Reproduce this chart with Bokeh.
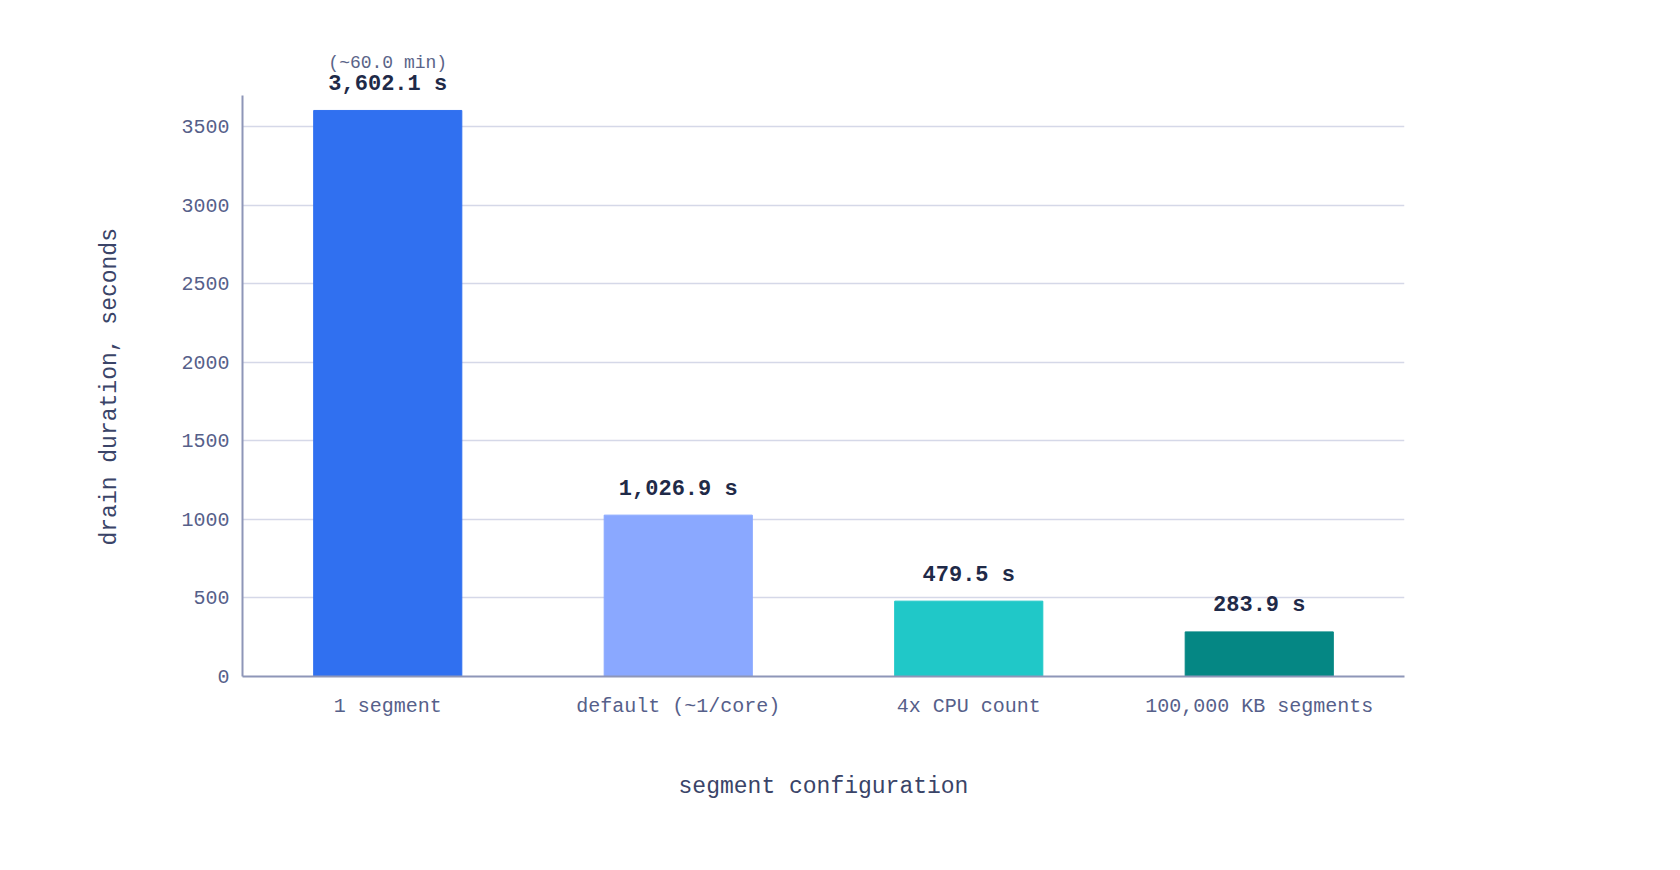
from bokeh.plotting import figure
from bokeh.models import ColumnDataSource, LabelSet, FixedTicker, Title
from bokeh.core.properties import value
from bokeh.embed import file_html
from bokeh.resources import INLINE

# Data
configs = ["1 segment", "default (~1/core)", "4x CPU count", "100,000 KB segments"]
durations = [3602.1, 1026.9, 479.5, 283.9]
bar_colors = ["#3070f0", "#8aa8ff", "#20c8c8", "#058784"]
y_ticks = [0, 500, 1000, 1500, 2000, 2500, 3000, 3500]
minutes_note = "(~60.0 min)"

FONT = "Liberation Mono"

source = ColumnDataSource(data=dict(
    config=configs,
    duration=durations,
    color=bar_colors,
    label=[f"{d:,.1f} s" for d in durations],
))
# extra note only over the tallest bar
note_source = ColumnDataSource(data=dict(
    config=[configs[0]], duration=[durations[0]], label=[minutes_note],
))

# y range goes past the axis so the labels over the tall bar stay inside the frame
p = figure(x_range=configs, y_range=(0, 4200), width=1664, height=854,
           output_backend="svg", toolbar_location=None, tools="",
           min_border_left=242, min_border_right=260,
           min_border_top=16, min_border_bottom=178)
p.x_range.range_padding = 0

p.vbar(x="config", top="duration", width=0.51, source=source,
       fill_color="color", line_color="color", line_width=1)

# value labels above each bar
labels = LabelSet(x="config", y="duration", text="label", source=source,
                  y_offset=26, text_align="center", text_baseline="middle",
                  text_font=value(FONT), text_font_size="22px", text_font_style="bold",
                  text_color="#1f2a48")
p.add_layout(labels)

note = LabelSet(x="config", y="duration", text="label", source=note_source,
                y_offset=47, text_align="center", text_baseline="middle",
                text_font=value(FONT), text_font_size="18px", text_color="#5a6488")
p.add_layout(note)

# styling
p.background_fill_color = "white"
p.border_fill_color = "white"
p.outline_line_color = None
p.xgrid.grid_line_color = None
p.ygrid.grid_line_color = "#d5d8e8"
p.ygrid.grid_line_width = 1.5
p.yaxis.ticker = FixedTicker(ticks=y_ticks)
p.yaxis.bounds = (0, 3700)

for ax in (p.xaxis, p.yaxis):
    ax.axis_line_color = "#8e96b8"
    ax.axis_line_width = 2
    ax.major_tick_line_color = None
    ax.minor_tick_line_color = None
    ax.major_tick_out = 0
    ax.minor_tick_out = 0
    ax.major_label_text_font = FONT
    ax.major_label_text_font_size = "20px"
    ax.major_label_text_color = "#56608a"
    ax.axis_label_text_font = FONT
    ax.axis_label_text_font_size = "23px"
    ax.axis_label_text_font_style = "normal"
    ax.axis_label_text_color = "#3a4468"

p.xaxis.axis_label = "segment configuration"
p.xaxis.major_label_standoff = 18
p.yaxis.major_label_standoff = 13
p.xaxis.axis_label_standoff = 53

# y label as a side title so it is centred on the drawn axis, not the whole frame
y_title = Title(text="drain duration, seconds", align="left", offset=131,
                standoff=111, text_font=FONT, text_font_size="23px",
                text_font_style="normal", text_color="#3a4468")
p.add_layout(y_title, "left")

open("out.html", "w").write(file_html(p, INLINE))
